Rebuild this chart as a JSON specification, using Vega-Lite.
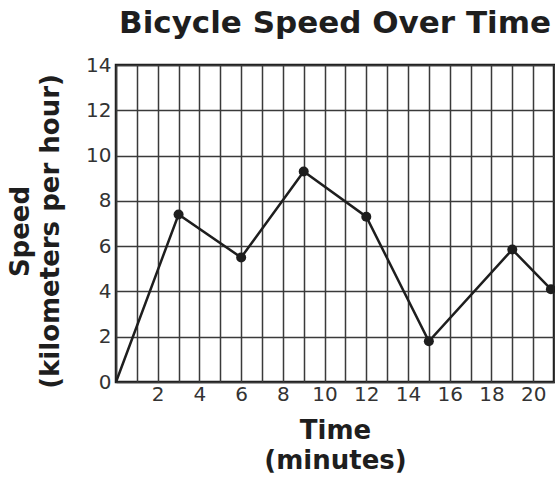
{
  "$schema": "https://vega.github.io/schema/vega-lite/v6.json",
  "autosize": "none",
  "width": 438,
  "height": 317,
  "padding": {"left": 116, "top": 65, "right": 1, "bottom": 98},
  "background": "white",
  "config": {
    "font": "DejaVu Sans",
    "view": {"stroke": "#1a1a1a", "strokeWidth": 2.5},
    "title": {"font": "DejaVu Sans", "fontSize": 31, "fontWeight": "bold", "color": "#1e1e1e", "anchor": "middle", "offset": 15}
  },
  "title": "Bicycle Speed Over Time",
  "data": {
    "values": [
      {"time": 0, "speed": 0},
      {"time": 3, "speed": 7.4},
      {"time": 6, "speed": 5.5},
      {"time": 9, "speed": 9.3},
      {"time": 12, "speed": 7.3},
      {"time": 15, "speed": 1.8},
      {"time": 19, "speed": 5.85},
      {"time": 20.85, "speed": 4.1}
    ]
  },
  "encoding": {
    "x": {
      "field": "time",
      "type": "quantitative",
      "scale": {"domain": [0, 21], "nice": false, "zero": false},
      "axis": {
        "values": [0,1,2,3,4,5,6,7,8,9,10,11,12,13,14,15,16,17,18,19,20,21],
        "labelExpr": "datum.value % 2 == 0 && datum.value > 0 && datum.value < 21 ? datum.label : ''",
        "grid": true, "gridColor": "#3a3a3a", "gridWidth": 1.5, "gridOpacity": 1,
        "domain": false, "ticks": false,
        "labelFont": "DejaVu Sans", "labelFontSize": 20, "labelColor": "#333333", "labelPadding": 2,
        "labelFlush": false,
        "title": ["Time", "(minutes)"],
        "titleFont": "DejaVu Sans", "titleFontSize": 26, "titleFontWeight": "bold", "titleColor": "#1e1e1e",
        "titleLineHeight": 30, "titlePadding": 13
      }
    },
    "y": {
      "field": "speed",
      "type": "quantitative",
      "scale": {"domain": [0, 14], "nice": false},
      "axis": {
        "values": [0,2,4,6,8,10,12,14],
        "grid": true, "gridColor": "#3a3a3a", "gridWidth": 1.5, "gridOpacity": 1,
        "domain": false, "ticks": false,
        "labelFont": "DejaVu Sans", "labelFontSize": 20, "labelColor": "#333333", "labelPadding": 5,
        "labelFlush": false,
        "title": ["Speed", "(kilometers per hour)"],
        "titleFont": "DejaVu Sans", "titleFontSize": 26, "titleFontWeight": "bold", "titleColor": "#1e1e1e",
        "titleLineHeight": 30, "titlePadding": 22, "titleY": 166
      }
    }
  },
  "layer": [
    {"mark": {"type": "line", "color": "#1e1e1e", "strokeWidth": 2.5}},
    {
      "transform": [{"filter": "datum.time > 0"}],
      "mark": {"type": "point", "filled": true, "color": "#1e1e1e", "opacity": 1, "size": 100}
    }
  ]
}
